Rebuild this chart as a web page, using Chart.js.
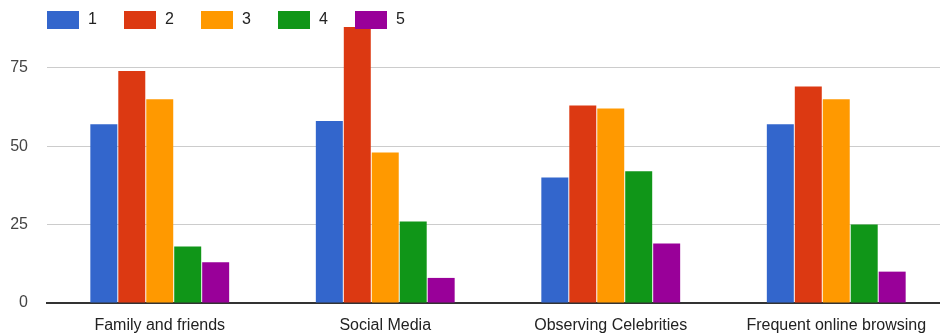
<!DOCTYPE html>
<html>
<head>
<meta charset="utf-8">
<script src="https://cdn.jsdelivr.net/npm/chart.js@4/dist/chart.umd.min.js"></script>
<style>
  html, body { margin: 0; padding: 0; background: #fff; overflow: hidden; }
  #wrap { width: 950px; height: 336px; }
</style>
</head>
<body>
<div id="wrap"><canvas id="chartFuentes" width="950" height="336"></canvas></div>
<script>
// Categorías y respuestas por nivel (1..5)
const categorias = ["Family and friends", "Social Media", "Observing Celebrities", "Frequent online browsing"];
const niveles = ["1", "2", "3", "4", "5"];
const nivel1 = [57, 58, 40, 57];
const nivel2 = [74, 88, 63, 69];
const nivel3 = [65, 48, 62, 65];
const nivel4 = [18, 26, 42, 25];
const nivel5 = [13, 8, 19, 10];
const ticksY = [0, 25, 50, 75];

const colores = ["#3366cc", "#dc3912", "#ff9900", "#109618", "#990099"];
const series = [nivel1, nivel2, nivel3, nivel4, nivel5];
const FUENTE = '"Liberation Sans", Arial, sans-serif';

// Leyenda dibujada a mano encima del área del gráfico
const leyendaArriba = {
  id: "leyendaArriba",
  afterDraw(chart) {
    const ctx = chart.ctx;
    ctx.save();
    ctx.font = "16px " + FUENTE;
    ctx.textBaseline = "middle";
    chart.data.datasets.forEach((ds, i) => {
      const x = 47 + i * 77;
      ctx.fillStyle = ds.backgroundColor;
      ctx.fillRect(x, 11, 32, 18);
      ctx.fillStyle = "#222";
      ctx.fillText(ds.label, x + 41, 20);
    });
    ctx.restore();
  },
};

new Chart(document.getElementById("chartFuentes"), {
  type: "bar",
  data: {
    labels: categorias,
    datasets: niveles.map((n, i) => ({
      label: n,
      data: series[i],
      backgroundColor: colores[i],
      borderWidth: 0,
      barPercentage: 0.965,
      categoryPercentage: 0.62,
      clip: false,
    })),
  },
  options: {
    responsive: false,
    animation: false,
    layout: { padding: { top: 12, right: 1, left: 0, bottom: 0 } },
    plugins: { legend: { display: false }, tooltip: { enabled: false } },
    scales: {
      x: {
        grid: { display: false },
        border: { color: "#333", width: 2 },
        ticks: { color: "#222", font: { size: 16, family: FUENTE }, padding: 5, maxRotation: 0 },
        afterFit: (s) => { s.height = 33; },
      },
      y: {
        min: 0,
        max: 87.5,
        border: { display: false },
        grid: { color: "#ccc", lineWidth: 1, drawTicks: false },
        ticks: { color: "#444", font: { size: 16, family: FUENTE }, padding: 19 },
        afterBuildTicks: (s) => { s.ticks = ticksY.map((v) => ({ value: v })); },
        afterFit: (s) => { s.width = 47; },
      },
    },
  },
  plugins: [leyendaArriba],
});
</script>
</body>
</html>
